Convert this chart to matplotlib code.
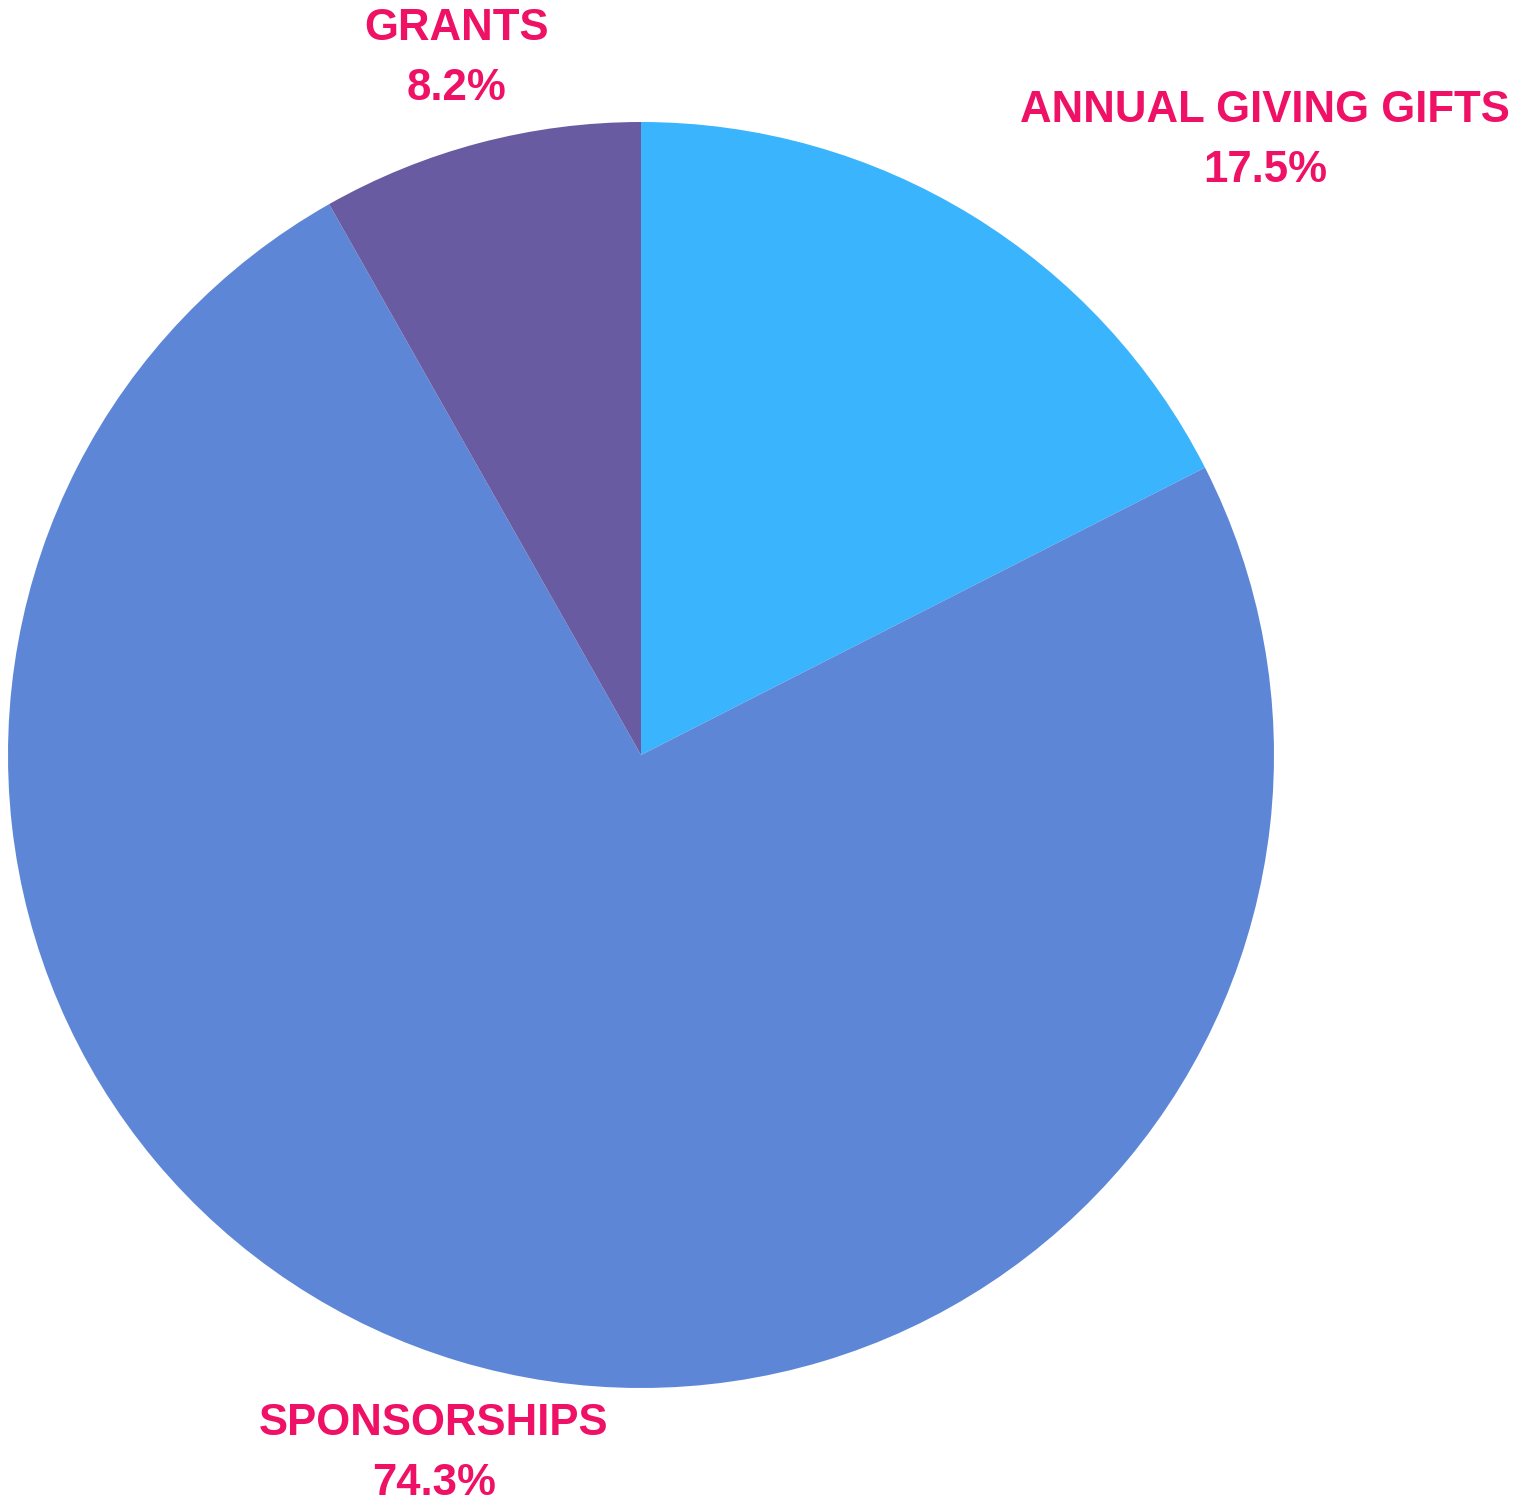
import numpy as np
import matplotlib.pyplot as plt

plt.rcParams['font.family'] = ['Liberation Sans', 'DejaVu Sans']

categories = ["ANNUAL GIVING GIFTS", "SPONSORSHIPS", "GRANTS"]
shares = [17.5, 74.3, 8.2]
colors = ["#3AB4FD", "#5D87D6", "#695BA1"]
label_color = "#EE1166"

W, H = 1528, 1500
cx, cy, R = 641, 755, 633

fig = plt.figure(figsize=(W / 100, H / 100), dpi=100)
ax = fig.add_axes([0, 0, 1, 1])
ax.pie(shares, colors=colors, startangle=90, counterclock=False, radius=1,
       wedgeprops=dict(linewidth=0))
ax.set_xlim(-cx / R, (W - cx) / R)
ax.set_ylim(-(H - cy) / R, cy / R)
ax.set_aspect('equal')
ax.axis('off')

# label centres, in units of the radius, relative to the pie centre
label_pos = {
    "ANNUAL GIVING GIFTS": (0.986, 0.970),
    "SPONSORSHIPS": (-0.327, -1.103),
    "GRANTS": (-0.292, 1.101),
}
gap = 60 / R
for name, val in zip(categories, shares):
    x, y = label_pos[name]
    ax.text(x, y + gap / 2, name, ha='center', va='center', fontsize=31.5,
            fontweight='bold', color=label_color)
    ax.text(x, y - gap / 2, f"{val:.1f}%", ha='center', va='center', fontsize=31.5,
            fontweight='bold', color=label_color)

fig.savefig("out.png", dpi=100)
